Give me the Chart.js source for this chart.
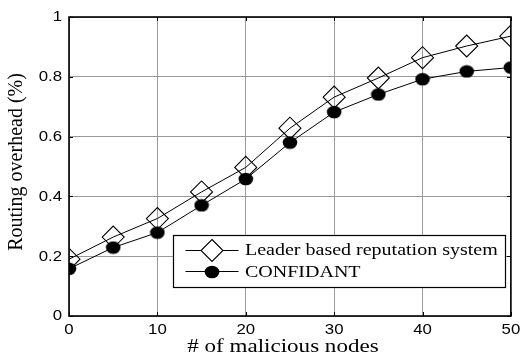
<!DOCTYPE html>
<html><head><meta charset="utf-8">
<script src="https://cdn.jsdelivr.net/npm/chart.js@4"></script>
<style>html,body{margin:0;padding:0;background:#fff;} #c{display:block;}</style>
</head><body>
<canvas id="c" width="523" height="356"></canvas>
<script>
const xValues = [0, 5, 10, 15, 20, 25, 30, 35, 40, 45, 50];
const leaderValues = [0.19, 0.264, 0.326, 0.415, 0.497, 0.628, 0.732, 0.796, 0.864, 0.903, 0.936];
const confidantValues = [0.158, 0.229, 0.279, 0.37, 0.458, 0.58, 0.682, 0.741, 0.792, 0.818, 0.831];
const seriesNames = ['Leader based reputation system', 'CONFIDANT'];
const yTickValues = [0, 0.2, 0.4, 0.6, 0.8, 1];
const yTickLabels = ['0', '0.2', '0.4', '0.6', '0.8', '1'];
const xTickValues = [0, 10, 20, 30, 40, 50];
const xTickLabels = ['0', '10', '20', '30', '40', '50'];
const xTitle = '# of malicious nodes';
const yTitle = 'Routing overhead (%)';

function makeDot() {
  const c = document.createElement('canvas');
  c.width = 16; c.height = 14;
  const g = c.getContext('2d');
  g.beginPath();
  g.ellipse(8, 7, 7.3, 6.3, 0, 0, Math.PI * 2);
  g.fillStyle = '#000'; g.fill();
  return c;
}
const dot = makeDot();

function sText(ctx, text, x, y, sx, align, baseline, font, rot) {
  ctx.save();
  ctx.translate(x, y);
  if (rot) ctx.rotate(rot);
  ctx.scale(sx, 1);
  ctx.font = font;
  ctx.textAlign = align;
  ctx.textBaseline = baseline;
  ctx.fillStyle = '#000';
  ctx.fillText(text, 0, 0);
  ctx.restore();
}

const decor = {
  id: 'decor',
  afterDraw(chart) {
    const ctx = chart.ctx;
    const a = chart.chartArea;
    const xs = chart.scales.x, ys = chart.scales.y;
    ctx.save();
    ctx.strokeStyle = '#000';
    ctx.lineWidth = 1;
    ctx.beginPath();
    yTickValues.forEach(v => {
      const py = Math.round(ys.getPixelForValue(v)) + 0.5;
      ctx.moveTo(a.left, py); ctx.lineTo(a.left + 4, py);
      ctx.moveTo(a.right, py); ctx.lineTo(a.right - 4, py);
    });
    xTickValues.forEach(v => {
      const px = Math.round(xs.getPixelForValue(v)) + 0.5;
      ctx.moveTo(px, a.bottom); ctx.lineTo(px, a.bottom - 4);
      ctx.moveTo(px, a.top); ctx.lineTo(px, a.top + 4);
    });
    ctx.stroke();
    ctx.lineWidth = 1.6;
    ctx.strokeRect(a.left, a.top, a.right - a.left, a.bottom - a.top);
    const tf = '14px "Liberation Sans", Arial, sans-serif';
    yTickValues.forEach((v, i) => {
      sText(ctx, yTickLabels[i], a.left - 7, ys.getPixelForValue(v) + 0.5, 1.2, 'right', 'middle', tf);
    });
    xTickValues.forEach((v, i) => {
      sText(ctx, xTickLabels[i], xs.getPixelForValue(v), a.bottom + 14, 1.2, 'center', 'middle', tf);
    });
    sText(ctx, xTitle, (a.left + a.right) / 2 - 7, 352, 1.28, 'center', 'alphabetic', '18px "Liberation Serif", "Times New Roman", serif');
    sText(ctx, yTitle, 17, 162, 1.0, 'center', 'middle', '20px "Liberation Serif", "Times New Roman", serif', -Math.PI / 2);
    const bx = 173.5, by = 235.5, bw = 332, bh = 52;
    ctx.fillStyle = '#fff';
    ctx.fillRect(bx, by, bw, bh);
    ctx.lineWidth = 1.2;
    ctx.strokeStyle = '#000';
    ctx.strokeRect(bx, by, bw, bh);
    const rows = [250.5, 271.5];
    const baselines = [255.3, 277.3];
    rows.forEach((ry, i) => {
      ctx.lineWidth = 1;
      ctx.strokeStyle = '#000';
      ctx.beginPath();
      ctx.moveTo(185.5, ry);
      ctx.lineTo(238.5, ry);
      ctx.stroke();
      if (i === 0) {
        ctx.beginPath();
        ctx.moveTo(212, ry - 11); ctx.lineTo(223, ry); ctx.lineTo(212, ry + 11); ctx.lineTo(201, ry); ctx.closePath();
        ctx.fillStyle = '#fff'; ctx.fill();
        ctx.lineWidth = 1.1; ctx.stroke();
      } else {
        ctx.drawImage(dot, 212 - dot.width / 2, Math.round(ry - dot.height / 2));
      }
      sText(ctx, seriesNames[i], 245, baselines[i], 1.25, 'left', 'alphabetic', '16px "Liberation Serif", "Times New Roman", serif');
    });
    ctx.restore();
  }
};

new Chart(document.getElementById('c'), {
  type: 'line',
  data: {
    datasets: [
      {
        label: seriesNames[1],
        data: xValues.map((x, i) => ({ x: x, y: confidantValues[i] })),
        borderColor: '#000', borderWidth: 1,
        pointStyle: dot, pointRadius: 7,
        backgroundColor: '#000', pointBorderColor: '#000',
        order: 0, tension: 0
      },
      {
        label: seriesNames[0],
        data: xValues.map((x, i) => ({ x: x, y: leaderValues[i] })),
        borderColor: '#000', borderWidth: 1,
        pointStyle: 'rectRot', pointRadius: 11, pointBorderWidth: 1.1,
        pointBackgroundColor: 'rgba(0,0,0,0)', pointBorderColor: '#000',
        backgroundColor: 'rgba(0,0,0,0)',
        order: 1, tension: 0
      }
    ]
  },
  options: {
    responsive: false,
    animation: false,
    events: [],
    layout: { padding: { left: 0, top: 17, right: 9, bottom: 0 } },
    plugins: { legend: { display: false }, tooltip: { enabled: false } },
    scales: {
      x: {
        type: 'linear', min: 0, max: 50,
        afterBuildTicks(s) { s.ticks = xTickValues.map(v => ({ value: v })); },
        afterFit(s) { s.height = 40; },
        ticks: { display: false },
        grid: { color: '#9a9a9a', lineWidth: 1, drawTicks: false },
        border: { display: false }
      },
      y: {
        type: 'linear', min: 0, max: 1,
        afterBuildTicks(s) { s.ticks = yTickValues.map(v => ({ value: v })); },
        afterFit(s) { s.width = 69; },
        ticks: { display: false },
        grid: { color: '#9a9a9a', lineWidth: 1, drawTicks: false },
        border: { display: false }
      }
    }
  },
  plugins: [decor]
});
</script>
</body></html>
